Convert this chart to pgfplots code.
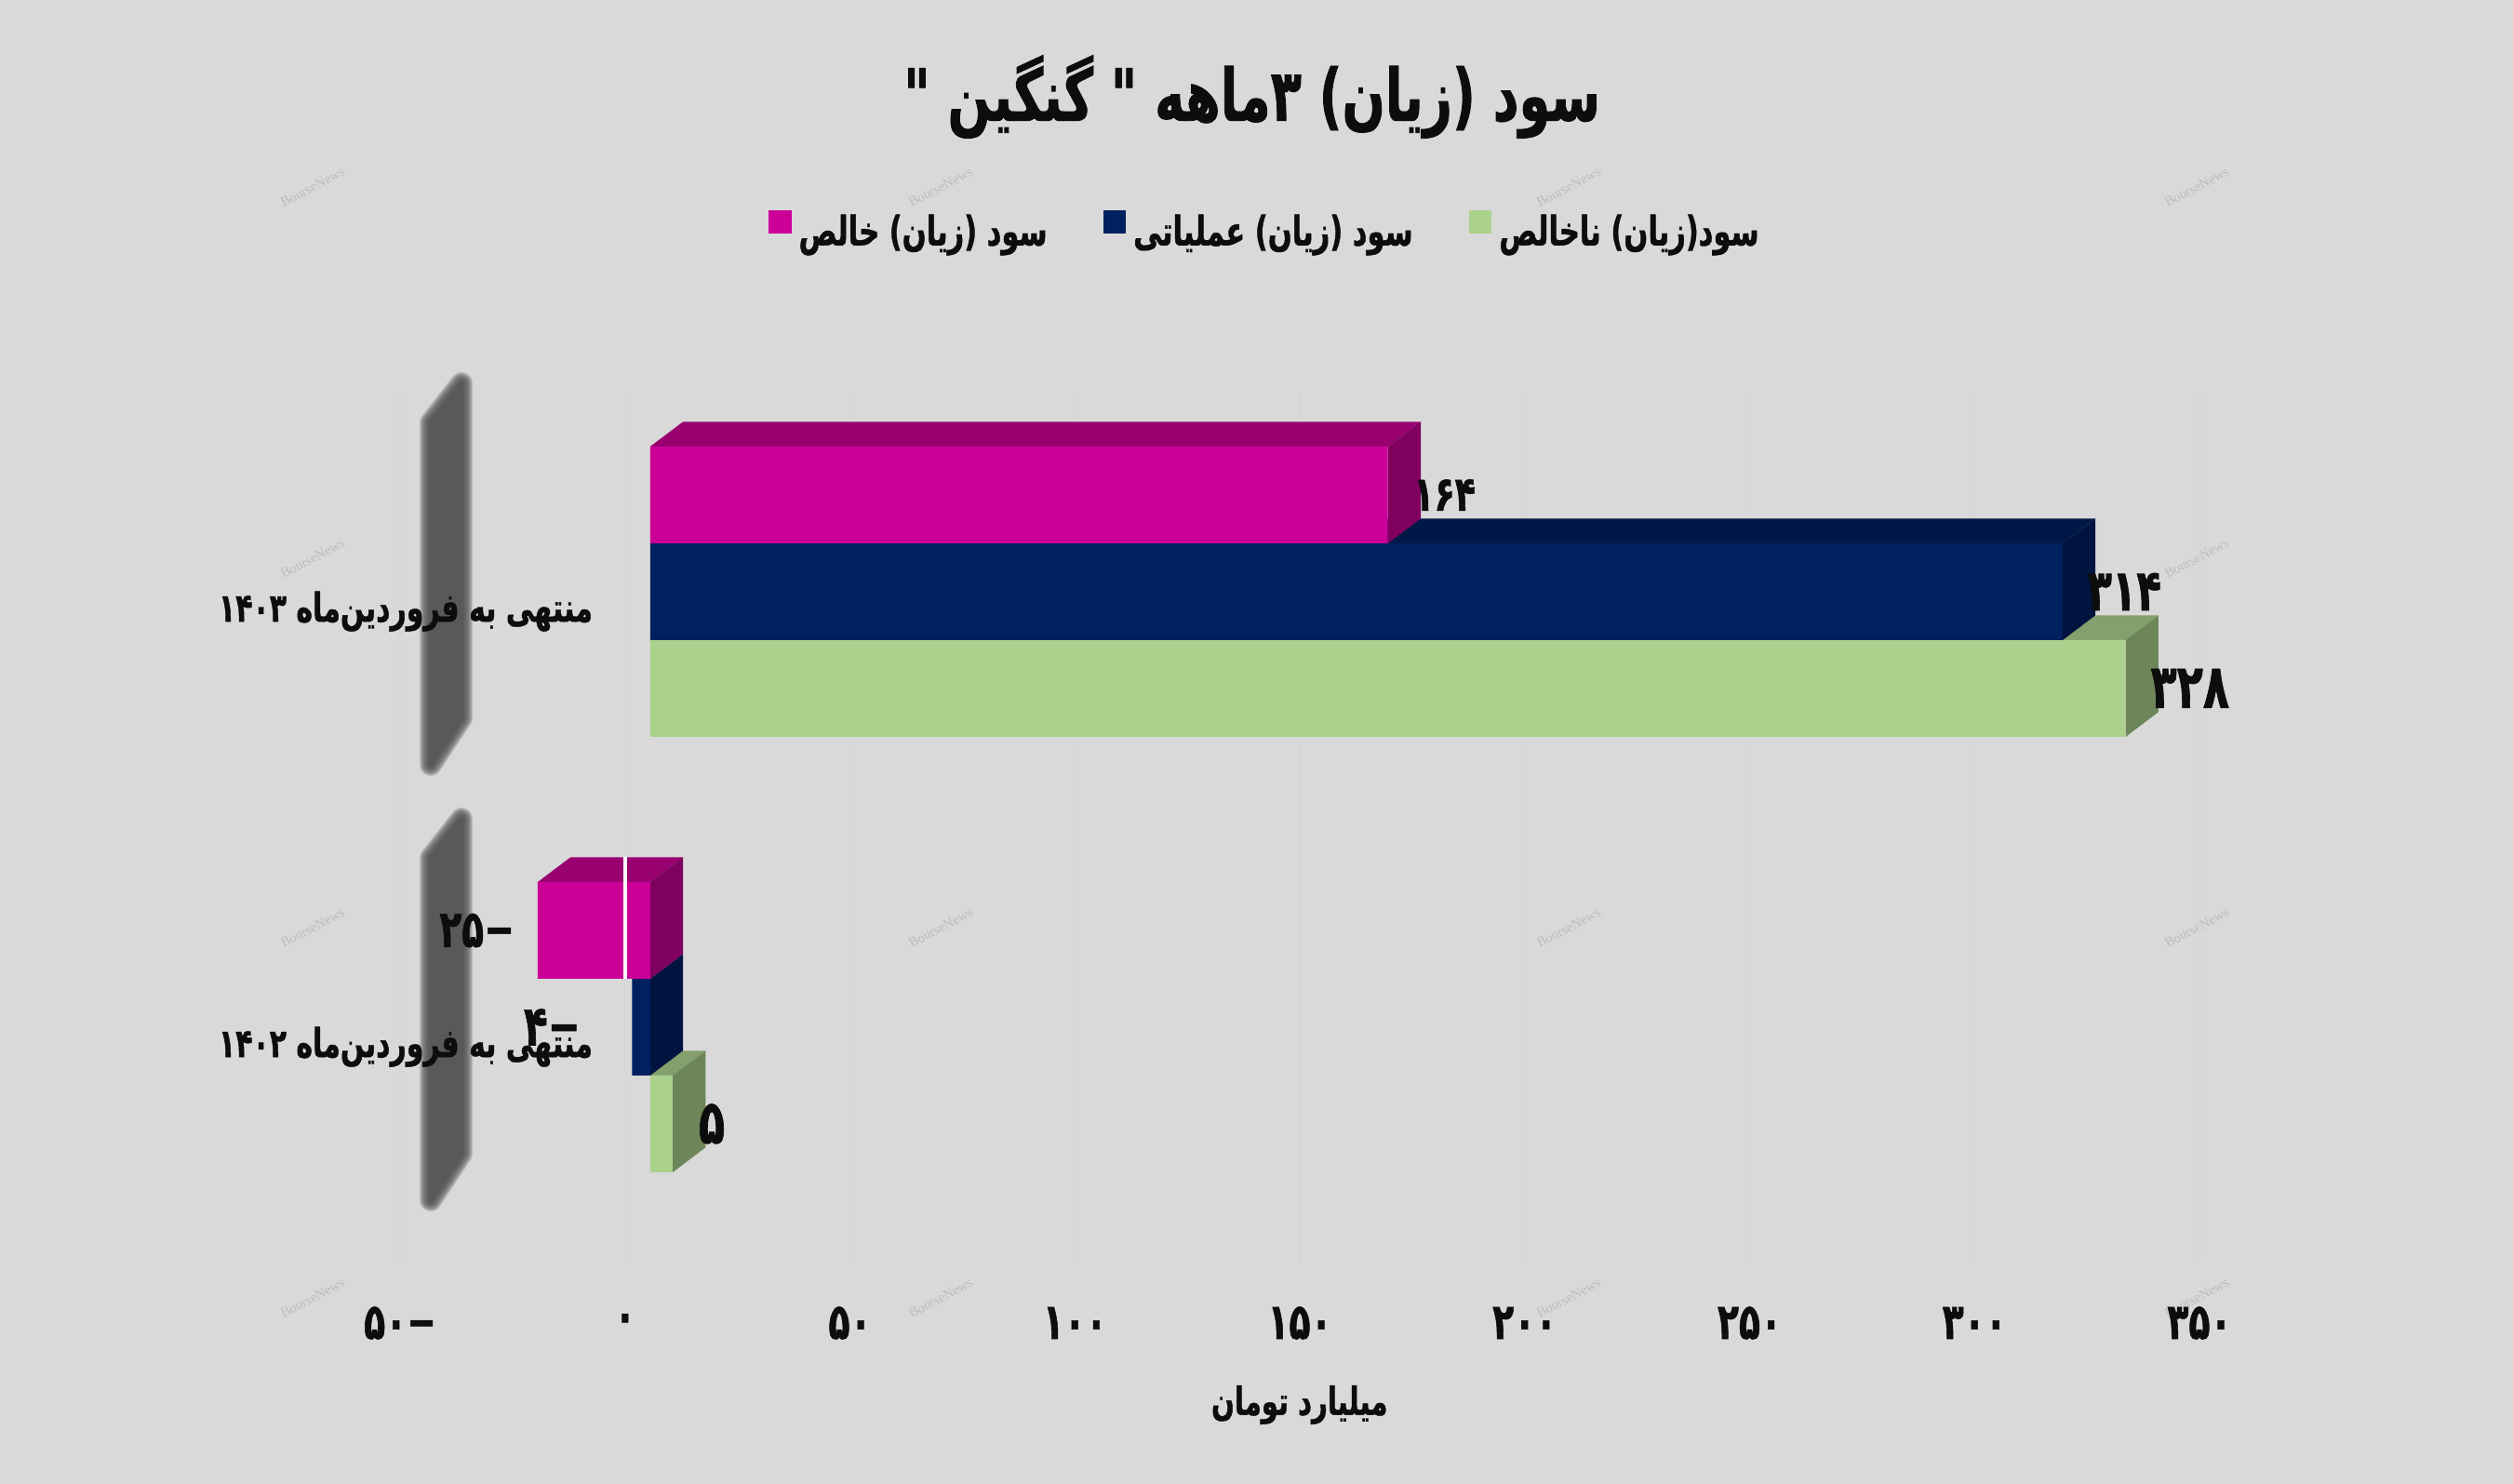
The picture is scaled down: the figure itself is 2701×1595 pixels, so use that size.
\documentclass[border=0pt]{standalone}
\usepackage{pgfplots}
\pgfplotsset{compat=1.18}
\usepackage{fontspec}
\setmainfont{Liberation Serif}
\TeXXeTstate=1
\newfontfamily\arabicfont[Script=Arabic,FakeStretch=0.7,FakeBold=1]{DejaVu Sans Bold}
\newcommand{\fan}[1]{{\arabicfont #1}}
\definecolor{bg}{HTML}{D9D9D9}
\definecolor{gridc}{HTML}{D6D6D6}
\definecolor{pinkF}{HTML}{CC0099}
\definecolor{pinkT}{HTML}{990070}
\definecolor{pinkS}{HTML}{7F005F}
\definecolor{navyF}{HTML}{002060}
\definecolor{navyT}{HTML}{001848}
\definecolor{navyS}{HTML}{00143F}
\definecolor{greenF}{HTML}{ABD18D}
\definecolor{greenT}{HTML}{83A06D}
\definecolor{greenS}{HTML}{6C8659}
\definecolor{txt}{HTML}{0D0D0D}
\begin{document}
\begin{tikzpicture}[x=0.25pt,y=-0.25pt,yshift=398.75pt]
\fill[bg] (0,0) rectangle (2701,1595);
% blurred plates beside the category labels
\foreach \dy in {0,-468}{
\foreach \w in {24,22,...,2}{
\begin{scope}[transparency group,opacity=.2]
\path[draw=black!68,fill=black!68,line width=\w*0.25pt,line join=round]
 (463,922+\dy) -- (496,880+\dy) -- (496,1240+\dy) -- (463,1290+\dy) -- cycle;
\end{scope}}
}
\foreach \wy in {201,600,997,1395}{\foreach \wx in {336,1011,1686,2361}{
\node[rotate=28,black,opacity=.13,font=\fontsize{3.7}{4}\selectfont,inner sep=0pt] at (\wx,\wy) {BourseNews};}}
\begin{axis}[
 at={(107.5pt,-339.5pt)},anchor=south west,
 scale only axis,width=490.25pt,height=234.5pt,
 xmin=-55.6,xmax=350,ymin=-0.5427,ymax=1.4615,
 clip=false,
 axis line style={draw=none},
 tick style={draw=none},
 xmajorgrids,
 x grid style={gridc,line width=.4pt,xshift=-6.75pt},
 xtick={-50,0,50,100,150,200,250,300,350},
 xticklabels={\fan{۵۰\kern0pt −},\fan{۰},\fan{۵۰},\fan{۱۰۰},\fan{۱۵۰},\fan{۲۰۰},\fan{۲۵۰},\fan{۳۰۰},\fan{۳۵۰}},
 ytick={0,1},
 yticklabels={{\arabicfont\beginR منتهی به فروردین‌ماه ۱۴۰۲\endR},{\arabicfont\beginR منتهی به فروردین‌ماه ۱۴۰۳\endR}},
 xticklabel style={xshift=-6.75pt,font=\fontsize{13.5}{15}\selectfont,text=txt,anchor=center,yshift=-16pt},
 yticklabel style={xshift=55.3pt,yshift=-5.3pt,font=\fontsize{10.7}{12}\selectfont,text=txt,anchor=east},
 title={{\arabicfont\beginR سود (زیان) ۳ماهه " گنگین "\endR}},
 title style={at={(axis description cs:.467,1.3113)},anchor=center,yshift=0pt,font=\fontsize{19.4}{22}\selectfont,text=txt},
 xlabel={{\arabicfont\beginR میلیارد تومان\endR}},
 xlabel style={at={(axis description cs:.493,-.162)},anchor=center,font=\fontsize{10.4}{12}\selectfont,text=txt},
 legend columns=3,
 legend style={at={(axis description cs:.1954,1.181)},anchor=west,draw=none,fill=none,font=\fontsize{10.9}{12}\selectfont,text=txt,
   /tikz/every even column/.append style={column sep=13pt}},
 legend image code/.code={\fill[#1] (0pt,0pt) rectangle (5.75pt,5.75pt);},
]
\addlegendimage{pinkF}\addlegendentry{{\arabicfont\beginR سود (زیان) خالص\endR}}
\addlegendimage{navyF}\addlegendentry{{\arabicfont\beginR سود (زیان) عملیاتی\endR}}
\addlegendimage{greenF}\addlegendentry{{\arabicfont\beginR سود(زیان) ناخالص\endR}}
% green series: top face, side face, front
\addplot[forget plot,fill=greenT,draw=none] coordinates {(0,0.8889) (328,0.8889) (335.3,0.9459) (7.3,0.9459)} -- cycle;
\addplot[forget plot,fill=greenS,draw=none] coordinates {(328,0.8889) (335.3,0.9459) (335.3,0.7237) (328,0.6667)} -- cycle;
\addplot[forget plot,fill=greenT,draw=none] coordinates {(0,-0.1111) (5,-0.1111) (12.3,-0.0541) (7.3,-0.0541)} -- cycle;
\addplot[forget plot,fill=greenS,draw=none] coordinates {(5,-0.1111) (12.3,-0.0541) (12.3,-0.2763) (5,-0.3333)} -- cycle;
\addplot[forget plot,xbar,bar width=0.2222,bar shift=-0.2222,fill=greenF,draw=none] coordinates {(328,1) (5,0)};
% navy series
\addplot[forget plot,fill=navyT,draw=none] coordinates {(0,1.1111) (314,1.1111) (321.3,1.1681) (7.3,1.1681)} -- cycle;
\addplot[forget plot,fill=navyS,draw=none] coordinates {(314,1.1111) (321.3,1.1681) (321.3,0.9459) (314,0.8889)} -- cycle;
\addplot[forget plot,fill=navyS,draw=none] coordinates {(0,0.1111) (7.3,0.1681) (7.3,-0.0541) (0,-0.1111)} -- cycle;
\addplot[forget plot,xbar,bar width=0.2222,bar shift=0,fill=navyF,draw=none] coordinates {(314,1) (-4,0)};
% pink series
\addplot[forget plot,fill=pinkT,draw=none] coordinates {(0,1.3333) (164,1.3333) (171.3,1.3903) (7.3,1.3903)} -- cycle;
\addplot[forget plot,fill=pinkS,draw=none] coordinates {(164,1.3333) (171.3,1.3903) (171.3,1.1681) (164,1.1111)} -- cycle;
\addplot[forget plot,fill=pinkT,draw=none] coordinates {(-25,0.3333) (0,0.3333) (7.3,0.3903) (-17.7,0.3903)} -- cycle;
\addplot[forget plot,fill=pinkS,draw=none] coordinates {(0,0.3333) (7.3,0.3903) (7.3,0.1681) (0,0.1111)} -- cycle;
\addplot[forget plot,xbar,bar width=0.2222,bar shift=0.2222,fill=pinkF,draw=none] coordinates {(164,1) (-25,0)};
% zero line crossing the negative bar
\addplot[forget plot,white,line width=1pt] coordinates {(-5.58,0.1111) (-5.58,0.3903)};
\tikzset{lab/.style={text=txt,inner sep=0pt}}
\node[lab,font=\fontsize{13}{15}\selectfont] at (axis cs:176.6,1.222) {\fan{۱۶۴}};
\node[lab,font=\fontsize{15.5}{17}\selectfont] at (axis cs:327.7,1.0) {\fan{۳۱۴}};
\node[lab,font=\fontsize{16.5}{18}\selectfont] at (axis cs:342.3,0.778) {\fan{۳۲۸}};
\node[lab,font=\fontsize{16.5}{18}\selectfont] at (axis cs:13.7,-0.222) {\fan{۵}};
\node[lab,font=\fontsize{14}{16}\selectfont] at (axis cs:-38.5,0.222) {\fan{۲۵\kern0pt −}};
\node[lab,font=\fontsize{15}{17}\selectfont] at (axis cs:-21.8,0.0) {\fan{۴\kern0pt −}};
\end{axis}
\end{tikzpicture}
\end{document}
